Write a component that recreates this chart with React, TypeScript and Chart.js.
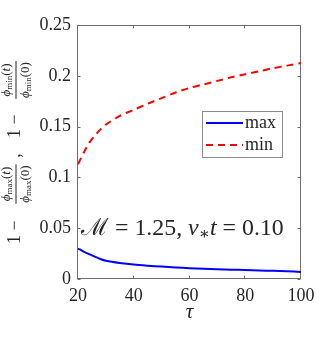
import React, { useEffect, useRef } from "react";
import { Chart, registerables } from "chart.js";

Chart.register(...registerables);

const tau = [20, 22, 24, 26, 28, 30, 35, 40, 45, 50, 55, 60, 65, 70, 75, 80, 85, 90, 95, 100];
const maxSeries = [0.030, 0.027, 0.0245, 0.022, 0.0197, 0.0180, 0.0158, 0.0142, 0.0131, 0.0122, 0.0114, 0.0107, 0.0102, 0.0097, 0.0092, 0.0088, 0.0084, 0.0080, 0.0076, 0.0070];
const minSeries = [0.113, 0.124, 0.134, 0.141, 0.147, 0.152, 0.1605, 0.1665, 0.1725, 0.178, 0.1835, 0.188, 0.1915, 0.195, 0.1985, 0.2015, 0.2045, 0.2075, 0.210, 0.2125];
const seriesLabels = ["max", "min"];
const xTicks = [20, 40, 60, 80, 100];
const yTicks = [0, 0.05, 0.1, 0.15, 0.2, 0.25];
const yTickLabels = ["0", "0.05", "0.1", "0.15", "0.2", "0.25"];
const xTitle = "τ";

const SERIF = '"Liberation Serif", "DejaVu Serif", serif';
const TEXT = "#262626";

type Piece = { t: string; s: number; it?: boolean; dy?: number };

function fnt(s: number, it?: boolean) {
  return `${it ? "italic " : ""}${s}px ${SERIF}`;
}
function runWidth(ctx: CanvasRenderingContext2D, ps: Piece[]) {
  let w = 0;
  for (const p of ps) {
    ctx.font = fnt(p.s, p.it);
    w += ctx.measureText(p.t).width;
  }
  return w;
}
function drawRun(ctx: CanvasRenderingContext2D, ps: Piece[], x: number, y: number) {
  ctx.textBaseline = "alphabetic";
  ctx.textAlign = "left";
  for (const p of ps) {
    ctx.font = fnt(p.s, p.it);
    ctx.fillText(p.t, x, y + (p.dy || 0));
    x += ctx.measureText(p.t).width;
  }
  return x;
}
function drawFrac(ctx: CanvasRenderingContext2D, cx: number, num: Piece[], den: Piece[]) {
  const wn = runWidth(ctx, num);
  const wd = runWidth(ctx, den);
  const w = Math.max(wn, wd) + 2;
  drawRun(ctx, num, cx - wn / 2, -10);
  drawRun(ctx, den, cx - wd / 2, 8.7);
  ctx.fillRect(cx - w / 2, -4.5, w, 1);
}

const decor = {
  id: "decor",
  beforeDatasetsDraw(chart: any) {
    const { ctx, chartArea: a, scales } = chart;
    ctx.save();
    ctx.strokeStyle = "#6e6e6e";
    ctx.lineWidth = 1;
    const L = Math.round(a.left) - 0.5, R = Math.round(a.right) - 0.5;
    const T = Math.round(a.top) + 0.5, B = Math.round(a.bottom) - 0.5;
    ctx.strokeRect(L, T, R - L, B - T);
    const tl = 3;
    ctx.beginPath();
    for (const v of xTicks) {
      const px = Math.round(scales.x.getPixelForValue(v)) - 0.5;
      ctx.moveTo(px, B); ctx.lineTo(px, B - tl);
      ctx.moveTo(px, T); ctx.lineTo(px, T + tl);
    }
    for (const v of yTicks) {
      const py = Math.round(scales.y.getPixelForValue(v)) + 0.5;
      ctx.moveTo(L, py); ctx.lineTo(L + tl, py);
      ctx.moveTo(R, py); ctx.lineTo(R - tl, py);
    }
    ctx.stroke();
    ctx.restore();
  },
  afterDraw(chart: any) {
    const { ctx, chartArea: a } = chart;
    ctx.save();
    ctx.fillStyle = TEXT;

    // y axis label (rotated)
    const cy = (a.top + a.bottom) / 2;
    ctx.translate(20, cy);
    ctx.rotate(-Math.PI / 2);
    const M = 18, F = 13, S = 9;
    const at = (lx: number, t: string) => {
      ctx.font = fnt(M);
      ctx.textAlign = "center";
      ctx.textBaseline = "alphabetic";
      ctx.fillText(t, lx, 0);
    };
    const fracMax = () => drawFrac(ctx, -32,
      [{ t: "ϕ", s: F, it: true }, { t: "max", s: S, dy: 2 }, { t: "(", s: F }, { t: "t", s: F, it: true }, { t: ")", s: F }],
      [{ t: "ϕ", s: F, it: true }, { t: "max", s: S, dy: 2 }, { t: "(0)", s: F }]);
    const fracMin = () => drawFrac(ctx, 72,
      [{ t: "ϕ", s: F, it: true }, { t: "min", s: S, dy: 2 }, { t: "(", s: F }, { t: "t", s: F, it: true }, { t: ")", s: F }],
      [{ t: "ϕ", s: F, it: true }, { t: "min", s: S, dy: 2 }, { t: "(0)", s: F }]);
    at(-87.5, "1");
    at(-73.5, "−");
    fracMax();
    at(-3.5, ",");
    at(18.5, "1");
    at(32.5, "−");
    fracMin();
    ctx.setTransform(1, 0, 0, 1, 0, 0);

    // legend
    const lx0 = 202, ly0 = 111, lw = 80, lh = 46;
    ctx.fillStyle = "#ffffff";
    ctx.fillRect(lx0, ly0, lw, lh);
    ctx.strokeStyle = "#8a8a8a";
    ctx.lineWidth = 1;
    ctx.strokeRect(lx0 + 0.5, ly0 + 0.5, lw, lh);
    const rows = [123, 145];
    chart.data.datasets.forEach((ds: any, i: number) => {
      ctx.strokeStyle = ds.borderColor;
      ctx.lineWidth = ds.borderWidth;
      ctx.setLineDash(ds.borderDash || []);
      ctx.beginPath();
      ctx.moveTo(206, rows[i]);
      ctx.lineTo(243, rows[i]);
      ctx.stroke();
      ctx.setLineDash([]);
      ctx.fillStyle = TEXT;
      ctx.font = fnt(18);
      ctx.textAlign = "left";
      ctx.textBaseline = "middle";
      ctx.fillText(ds.label, 245, rows[i]);
    });

    // annotation
    const mk = (s: number): Piece[] => [
      { t: "ℳ", s },
      { t: " = 1.25, ", s },
      { t: "ν", s, it: true },
      { t: "∗", s: s * 0.7, dy: s * 0.18 },
      { t: "t", s, it: true },
      { t: " = 0.10", s },
    ];
    const w0 = runWidth(ctx, mk(22));
    const s = (22 * 202) / w0;
    ctx.fillStyle = TEXT;
    drawRun(ctx, mk(s), 81, 235);
    ctx.restore();
  },
};

export default function App() {
  const ref = useRef<HTMLCanvasElement>(null);
  useEffect(() => {
    if (!ref.current) return;
    const chart = new Chart(ref.current, {
      type: "line",
      data: {
        datasets: [
          {
            label: seriesLabels[0],
            data: tau.map((t, i) => ({ x: t, y: maxSeries[i] })),
            borderColor: "#0000ff",
            borderWidth: 2,
            pointRadius: 0,
            tension: 0.3,
            fill: false,
          },
          {
            label: seriesLabels[1],
            data: tau.map((t, i) => ({ x: t, y: minSeries[i] })),
            borderColor: "#ff0000",
            borderWidth: 2,
            borderDash: [7, 5],
            pointRadius: 0,
            tension: 0.3,
            fill: false,
          },
        ],
      },
      options: {
        animation: false,
        responsive: false,
        events: [],
        layout: { padding: { left: 0, right: 31, top: 25, bottom: 0 } },
        plugins: { legend: { display: false }, tooltip: { enabled: false } },
        scales: {
          x: {
            type: "linear",
            min: 20,
            max: 100,
            afterBuildTicks: (sc: any) => { sc.ticks = xTicks.map((v) => ({ value: v })); },
            afterFit: (sc: any) => { sc.height = 58; },
            grid: { display: false, drawTicks: false },
            border: { display: false },
            ticks: { color: TEXT, font: { family: SERIF, size: 18 }, padding: 6, maxRotation: 0 },
            title: { display: true, text: xTitle, color: TEXT, font: { family: SERIF, size: 21, style: "italic" }, padding: { top: 0, bottom: 12 } },
          },
          y: {
            type: "linear",
            min: 0,
            max: 0.25,
            afterBuildTicks: (sc: any) => { sc.ticks = yTicks.map((v) => ({ value: v })); },
            afterFit: (sc: any) => { sc.width = 78; },
            grid: { display: false, drawTicks: false },
            border: { display: false },
            ticks: {
              color: TEXT,
              font: { family: SERIF, size: 18 },
              padding: 7,
              callback: (_v: any, i: number) => yTickLabels[i],
            },
          },
        },
      },
      plugins: [decor],
    } as any);
    return () => chart.destroy();
  }, []);
  return (
    <div style={{ position: "absolute", left: 0, top: 0, width: 332, height: 337, background: "#fff" }}>
      <canvas ref={ref} width={332} height={337} style={{ display: "block" }} />
    </div>
  );
}
